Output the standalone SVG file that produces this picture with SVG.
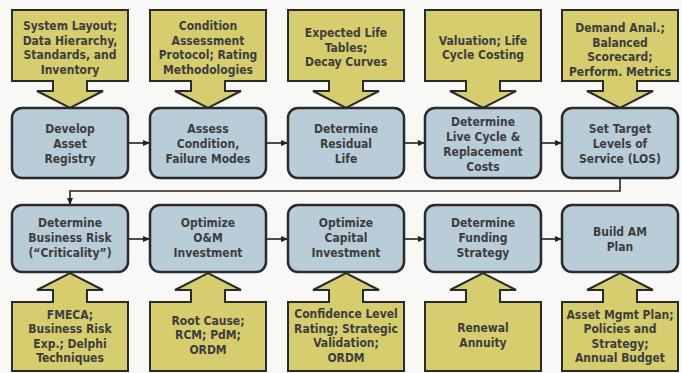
<svg xmlns="http://www.w3.org/2000/svg" xmlns:xlink="http://www.w3.org/1999/xlink" width="682" height="373" viewBox="0 0 682 373">
<style>
.bg{fill:#f8f8f6}
.call{fill:#d5cd6e;stroke:#2a2a2a;stroke-width:2;stroke-linejoin:miter}
.step{fill:#b9cdd8;stroke:#2a2a2a;stroke-width:2.5}
.t{font-family:"DejaVu Sans Condensed","DejaVu Sans",sans-serif;font-weight:bold;font-size:12px;fill:#3d3d3d;text-anchor:middle}
.conn{fill:none;stroke:#222;stroke-width:1.6}
</style>
<defs>
<marker id="ah" markerWidth="8" markerHeight="8" refX="7" refY="4" orient="auto" markerUnits="userSpaceOnUse">
<path d="M0,1 L7,4 L0,7 Z" fill="#222"/>
</marker>
<path id="callDown" d="M-58,10 H58 V81 H17 V91 H33 L0,108 L-33,91 H-17 V81 H-58 Z"/>
<path id="callUp" d="M-58,371 H58 V302 H17 V290 H33 L0,273 L-33,290 H-17 V302 H-58 Z"/>
</defs>
<rect class="bg" x="0" y="0" width="682" height="373"/>

<g id="connectors">
<line class="conn" x1="128" y1="143" x2="150" y2="143" marker-end="url(#ah)"/>
<line class="conn" x1="266" y1="143" x2="288" y2="143" marker-end="url(#ah)"/>
<line class="conn" x1="404" y1="143" x2="425" y2="143" marker-end="url(#ah)"/>
<line class="conn" x1="541" y1="143" x2="562" y2="143" marker-end="url(#ah)"/>
<path class="conn" d="M620,178 V191 H70 V205" marker-end="url(#ah)"/>
<line class="conn" x1="128" y1="239" x2="150" y2="239" marker-end="url(#ah)"/>
<line class="conn" x1="266" y1="239" x2="288" y2="239" marker-end="url(#ah)"/>
<line class="conn" x1="404" y1="239" x2="425" y2="239" marker-end="url(#ah)"/>
<line class="conn" x1="541" y1="239" x2="562" y2="239" marker-end="url(#ah)"/>
</g>

<g id="in1"><use xlink:href="#callDown" class="call" transform="translate(70,0)"/>
<text class="t" x="70" y="30">System Layout;</text><text class="t" x="70" y="44.5">Data Hierarchy,</text><text class="t" x="70" y="59">Standards, and</text><text class="t" x="70" y="73.5">Inventory</text></g>
<g id="in2"><use xlink:href="#callDown" class="call" transform="translate(208,0)"/>
<text class="t" x="208" y="30">Condition</text><text class="t" x="208" y="44.5">Assessment</text><text class="t" x="208" y="59">Protocol; Rating</text><text class="t" x="208" y="73.5">Methodologies</text></g>
<g id="in3"><use xlink:href="#callDown" class="call" transform="translate(346,0)"/>
<text class="t" x="346" y="37">Expected Life</text><text class="t" x="346" y="51.5">Tables;</text><text class="t" x="346" y="66">Decay Curves</text></g>
<g id="in4"><use xlink:href="#callDown" class="call" transform="translate(483,0)"/>
<text class="t" x="483" y="44.5">Valuation; Life</text><text class="t" x="483" y="59">Cycle Costing</text></g>
<g id="in5"><use xlink:href="#callDown" class="call" transform="translate(620,0)"/>
<text class="t" x="620" y="32">Demand Anal.;</text><text class="t" x="620" y="46.5">Balanced</text><text class="t" x="620" y="61">Scorecard;</text><text class="t" x="620" y="75.5">Perform. Metrics</text></g>

<g id="s1"><rect class="step" x="12" y="108" width="116" height="70" rx="10"/>
<text class="t" x="70" y="133">Develop</text><text class="t" x="70" y="148">Asset</text><text class="t" x="70" y="163">Registry</text></g>
<g id="s2"><rect class="step" x="150" y="108" width="116" height="70" rx="10"/>
<text class="t" x="208" y="133">Assess</text><text class="t" x="208" y="148">Condition,</text><text class="t" x="208" y="163">Failure Modes</text></g>
<g id="s3"><rect class="step" x="288" y="108" width="116" height="70" rx="10"/>
<text class="t" x="346" y="133">Determine</text><text class="t" x="346" y="148">Residual</text><text class="t" x="346" y="163">Life</text></g>
<g id="s4"><rect class="step" x="425" y="108" width="116" height="70" rx="10"/>
<text class="t" x="483" y="126">Determine</text><text class="t" x="483" y="141">Live Cycle &amp;</text><text class="t" x="483" y="156">Replacement</text><text class="t" x="483" y="171">Costs</text></g>
<g id="s5"><rect class="step" x="562" y="108" width="116" height="70" rx="10"/>
<text class="t" x="620" y="133">Set Target</text><text class="t" x="620" y="148">Levels of</text><text class="t" x="620" y="163">Service (LOS)</text></g>

<g id="s6"><rect class="step" x="12" y="205" width="116" height="67" rx="10"/>
<text class="t" x="70" y="227">Determine</text><text class="t" x="70" y="242">Business Risk</text><text class="t" x="70" y="257">(“Criticality”)</text></g>
<g id="s7"><rect class="step" x="150" y="205" width="116" height="67" rx="10"/>
<text class="t" x="208" y="227">Optimize</text><text class="t" x="208" y="242">O&amp;M</text><text class="t" x="208" y="257">Investment</text></g>
<g id="s8"><rect class="step" x="288" y="205" width="116" height="67" rx="10"/>
<text class="t" x="346" y="227">Optimize</text><text class="t" x="346" y="242">Capital</text><text class="t" x="346" y="257">Investment</text></g>
<g id="s9"><rect class="step" x="425" y="205" width="116" height="67" rx="10"/>
<text class="t" x="483" y="227">Determine</text><text class="t" x="483" y="242">Funding</text><text class="t" x="483" y="257">Strategy</text></g>
<g id="s10"><rect class="step" x="562" y="205" width="116" height="67" rx="10"/>
<text class="t" x="620" y="236">Build AM</text><text class="t" x="620" y="251">Plan</text></g>

<g id="in6"><use xlink:href="#callUp" class="call" transform="translate(70,0)"/>
<text class="t" x="70" y="319">FMECA;</text><text class="t" x="70" y="333">Business Risk</text><text class="t" x="70" y="347.5">Exp.; Delphi</text><text class="t" x="70" y="362">Techniques</text></g>
<g id="in7"><use xlink:href="#callUp" class="call" transform="translate(208,0)"/>
<text class="t" x="208" y="324.5">Root Cause;</text><text class="t" x="208" y="339">RCM; PdM;</text><text class="t" x="208" y="353.5">ORDM</text></g>
<g id="in8"><use xlink:href="#callUp" class="call" transform="translate(346,0)"/>
<text class="t" x="346" y="318">Confidence Level</text><text class="t" x="346" y="332.5">Rating; Strategic</text><text class="t" x="346" y="347">Validation;</text><text class="t" x="346" y="361.5">ORDM</text></g>
<g id="in9"><use xlink:href="#callUp" class="call" transform="translate(483,0)"/>
<text class="t" x="483" y="332">Renewal</text><text class="t" x="483" y="347">Annuity</text></g>
<g id="in10"><use xlink:href="#callUp" class="call" transform="translate(620,0)"/>
<text class="t" x="620" y="319">Asset Mgmt Plan;</text><text class="t" x="620" y="333">Policies and</text><text class="t" x="620" y="347.5">Strategy;</text><text class="t" x="620" y="362">Annual Budget</text></g>
</svg>
